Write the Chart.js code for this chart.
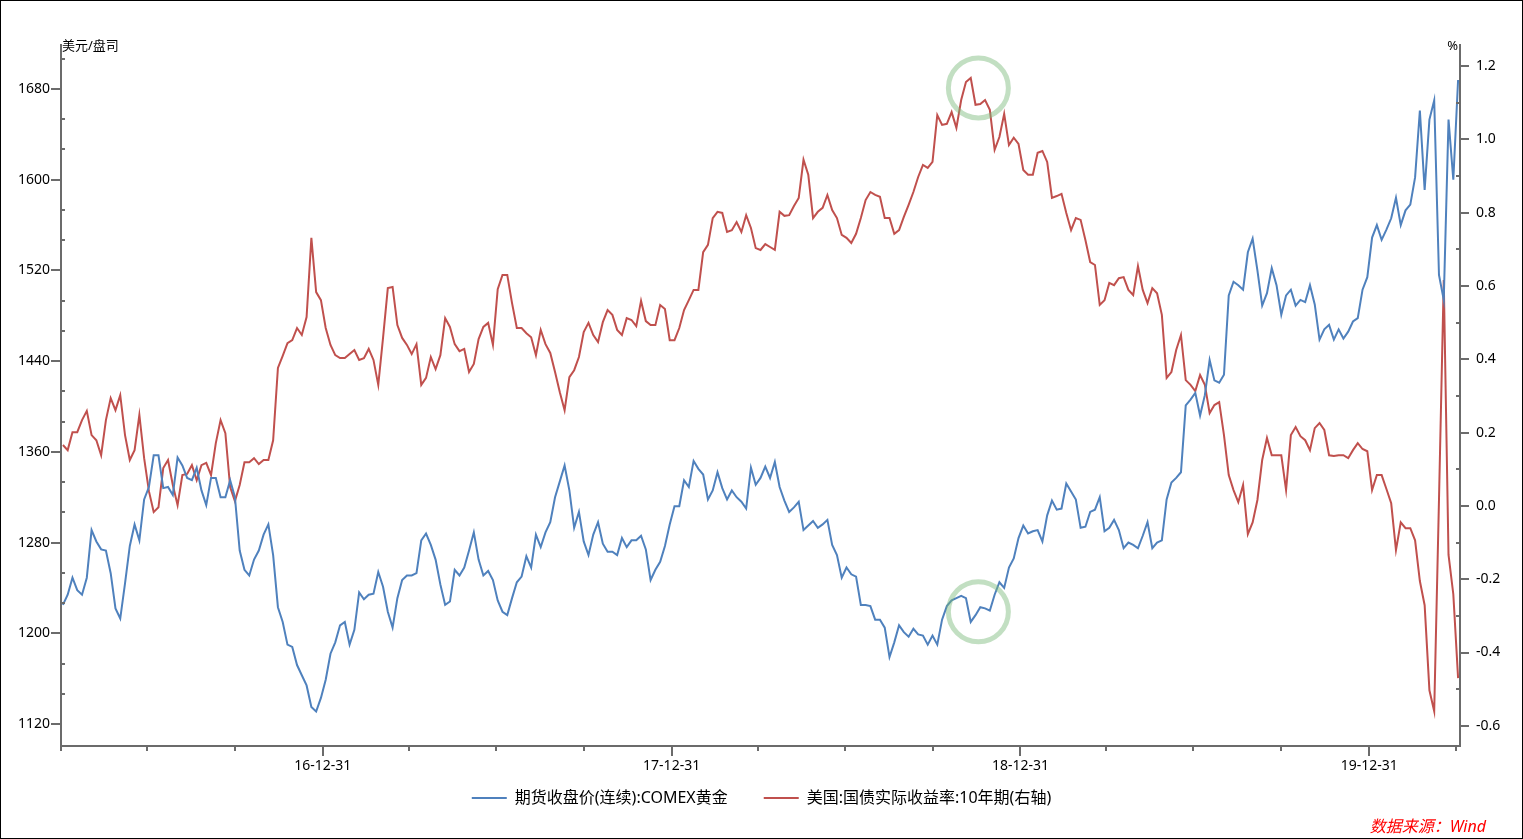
<!DOCTYPE html>
<html>
<head>
<meta charset="utf-8">
<script src="https://cdn.jsdelivr.net/npm/chart.js@4.4.1/dist/chart.umd.min.js"></script>
<style>
  html, body { margin: 0; padding: 0; background: #fff; }
  #wrap { width: 1521px; height: 837px; border: 1px solid #000; }
  canvas { display: block; }
</style>
</head>
<body>
<div id="wrap"><canvas id="chart" width="1521" height="837"></canvas></div>
<script>
// day 0 = 2016-03-31, one reading every 5 days
const startDay = 3;
const stepDays = 5;

// 期货收盘价(连续):COMEX黄金, USD/oz
const goldPrice = [
  1225,1234,1249,1238,1234,1249,1291,1281,1274,1273,
  1253,1222,1213,1244,1277,1296,1282,1318,1329,1357,
  1357,1328,1329,1322,1355,1348,1337,1335,1346,1326,
  1313,1337,1337,1320,1320,1335,1320,1273,1256,1251,
  1265,1273,1287,1296,1269,1223,1210,1190,1188,1172,
  1163,1154,1135,1131,1143,1159,1182,1192,1207,1210,
  1190,1203,1236,1230,1234,1235,1254,1241,1219,1205,
  1231,1247,1251,1251,1253,1282,1288,1278,1265,1243,
  1225,1228,1256,1251,1258,1273,1289,1265,1251,1255,
  1247,1229,1219,1216,1231,1245,1250,1268,1258,1287,
  1276,1289,1298,1320,1334,1348,1326,1293,1307,1281,
  1269,1287,1298,1279,1272,1272,1269,1284,1276,1282,
  1282,1286,1274,1247,1256,1263,1277,1296,1312,1312,
  1335,1329,1352,1345,1340,1318,1326,1342,1328,1318,
  1326,1320,1316,1310,1346,1331,1337,1347,1337,1351,
  1329,1317,1307,1311,1316,1291,1295,1299,1293,1296,
  1300,1278,1269,1249,1258,1252,1250,1225,1225,1224,
  1212,1212,1205,1179,1192,1207,1201,1197,1204,1199,
  1198,1190,1198,1190,1212,1224,1229,1231,1233,1231,
  1210,1216,1223,1222,1220,1234,1245,1240,1258,1266,
  1284,1295,1288,1290,1291,1281,1304,1317,1309,1310,
  1332,1325,1318,1293,1294,1307,1309,1320,1290,1293,
  1300,1291,1275,1280,1278,1275,1286,1298,1275,1280,
  1282,1318,1333,1337,1342,1401,1406,1412,1392,1410,
  1441,1423,1421,1428,1498,1510,1507,1503,1536,1548,
  1520,1489,1500,1522,1507,1481,1498,1503,1489,1494,
  1492,1507,1490,1459,1468,1472,1459,1468,1460,1466,
  1475,1478,1503,1514,1549,1560,1547,1556,1566,1584,
  1560,1573,1578,1602,1661,1591,1653,1670,1516,1494,
  1653,1600,1688
];

// 美国:国债实际收益率:10年期, %
const realYield = [
  0.166,0.152,0.201,0.201,0.234,0.259,0.193,0.179,0.138,0.234,
  0.294,0.261,0.302,0.193,0.125,0.152,0.248,0.130,0.040,-0.017,
  -0.004,0.103,0.125,0.057,0.002,0.084,0.087,0.111,0.070,0.111,
  0.117,0.084,0.171,0.234,0.198,0.051,0.013,0.057,0.119,0.119,
  0.130,0.114,0.125,0.125,0.179,0.376,0.409,0.444,0.452,0.485,
  0.466,0.515,0.731,0.583,0.561,0.485,0.439,0.411,0.403,0.403,
  0.414,0.425,0.398,0.403,0.428,0.398,0.330,0.458,0.594,0.597,
  0.493,0.458,0.439,0.414,0.441,0.330,0.349,0.406,0.373,0.411,
  0.512,0.488,0.441,0.422,0.428,0.365,0.387,0.455,0.488,0.499,
  0.439,0.591,0.630,0.630,0.553,0.485,0.485,0.471,0.460,0.411,
  0.480,0.441,0.417,0.365,0.310,0.261,0.351,0.370,0.406,0.474,
  0.499,0.466,0.447,0.501,0.534,0.521,0.480,0.466,0.512,0.507,
  0.490,0.559,0.504,0.493,0.493,0.548,0.537,0.452,0.452,0.485,
  0.534,0.561,0.589,0.589,0.692,0.712,0.785,0.802,0.799,0.747,
  0.752,0.774,0.747,0.793,0.758,0.703,0.698,0.714,0.706,0.698,
  0.802,0.791,0.793,0.818,0.840,0.944,0.903,0.785,0.802,0.813,
  0.848,0.807,0.785,0.739,0.731,0.717,0.742,0.785,0.834,0.856,
  0.848,0.843,0.785,0.785,0.742,0.752,0.788,0.821,0.856,0.897,
  0.930,0.922,0.938,1.066,1.039,1.042,1.074,1.031,1.107,1.156,
  1.167,1.094,1.096,1.107,1.080,0.971,1.006,1.069,0.984,1.004,
  0.987,0.916,0.903,0.903,0.963,0.968,0.938,0.840,0.845,0.851,
  0.799,0.752,0.785,0.780,0.725,0.665,0.657,0.548,0.561,0.608,
  0.602,0.621,0.624,0.589,0.575,0.654,0.589,0.553,0.594,0.580,
  0.521,0.349,0.365,0.425,0.466,0.343,0.330,0.313,0.357,0.330,
  0.253,0.275,0.283,0.193,0.084,0.043,0.010,0.057,-0.077,-0.045,
  0.016,0.125,0.185,0.138,0.138,0.138,0.043,0.193,0.215,0.190,
  0.179,0.152,0.212,0.226,0.207,0.138,0.136,0.138,0.138,0.130,
  0.152,0.171,0.155,0.149,0.043,0.084,0.084,0.046,0.007,-0.121,
  -0.045,-0.061,-0.061,-0.094,-0.205,-0.271,-0.503,-0.560,0.016,0.616,
  -0.134,-0.241,-0.470
];

const leftTicks = [1120, 1200, 1280, 1360, 1440, 1520, 1600, 1680];
const rightTicks = [-0.6, -0.4, -0.2, 0.0, 0.2, 0.4, 0.6, 0.8, 1.0, 1.2];

// highlighted spots (late 2018)
const circles = [
  { day: 961, axis: 'yRight', value: 1.14 },
  { day: 961, axis: 'yLeft', value: 1219 }
];

const axisColor = '#6b6b6b';
const numFont = "'Noto Sans', 'Noto Sans CJK SC', sans-serif";
const cjkFont = "'Noto Sans', 'Noto Sans CJK SC', sans-serif";

const base = Date.UTC(2016, 2, 31);
const dayOf = (y, m, d) => (Date.UTC(y, m - 1, d) - base) / 86400000;
const quarterEnds = [];
for (let y = 2016; y <= 2020; y++) {
  [[3, 31], [6, 30], [9, 30], [12, 31]].forEach(([m, d]) => {
    quarterEnds.push({ day: dayOf(y, m, d), yearEnd: m === 12, label: String(y).slice(2) + '-12-31' });
  });
}

const toPoints = arr => arr.map((v, i) => ({ x: startDay + i * stepDays, y: v }));

const axisDecor = {
  id: 'axisDecor',
  afterDatasetsDraw(chart) {
    const { ctx, scales } = chart;
    ctx.save();
    ctx.strokeStyle = 'rgba(120,185,120,0.45)';
    ctx.lineWidth = 5;
    circles.forEach(c => {
      const cx = scales.x.getPixelForValue(c.day);
      const cy = scales[c.axis].getPixelForValue(c.value);
      ctx.beginPath();
      ctx.arc(cx, cy, 30, 0, Math.PI * 2);
      ctx.stroke();
    });
    ctx.restore();
  },
  afterDraw(chart) {
    const { ctx, chartArea: a, scales } = chart;
    const { x, yLeft, yRight } = scales;
    ctx.save();
    ctx.strokeStyle = axisColor;
    ctx.lineWidth = 2;
    ctx.beginPath();
    // left axis: major ticks outside, minor inside
    for (let k = -1; k <= 24; k++) {
      const v = 1120 + k * 80 / 3;
      if (v < yLeft.min || v > yLeft.max) continue;
      const py = Math.round(yLeft.getPixelForValue(v));
      if (k % 3 === 0) { ctx.moveTo(a.left - 10, py); ctx.lineTo(a.left, py); }
      else { ctx.moveTo(a.left, py); ctx.lineTo(a.left + 4, py); }
    }
    // right axis
    for (let k = -7; k <= 13; k++) {
      const v = k / 10;
      if (v < yRight.min || v > yRight.max) continue;
      const py = Math.round(yRight.getPixelForValue(v));
      if (k % 2 === 0) { ctx.moveTo(a.right, py); ctx.lineTo(a.right + 9, py); }
      else { ctx.moveTo(a.right - 4, py); ctx.lineTo(a.right, py); }
    }
    // bottom axis: quarter ends, longer at year ends
    quarterEnds.forEach(q => {
      if (q.day > x.max) return;
      const px = Math.round(Math.max(a.left, x.getPixelForValue(q.day)));
      ctx.moveTo(px, a.bottom);
      ctx.lineTo(px, a.bottom + (q.yearEnd ? 10 : 5));
    });
    ctx.stroke();

    ctx.fillStyle = '#000';
    ctx.textBaseline = 'middle';
    ctx.textAlign = 'center';
    ctx.font = '14px ' + numFont;
    quarterEnds.forEach(q => {
      if (!q.yearEnd || q.day > x.max) return;
      ctx.fillText(q.label, x.getPixelForValue(q.day), a.bottom + 20);
    });

    ctx.font = '13px ' + cjkFont;
    ctx.textAlign = 'left';
    ctx.fillText('美元/盘司', a.left + 1, a.top + 1);
    ctx.textAlign = 'right';
    ctx.fillText('%', a.right - 2, a.top + 1);

    ctx.fillStyle = '#ff0000';
    ctx.font = 'italic 16px ' + cjkFont;
    ctx.fillText('数据来源：Wind', 1485, 826);
    ctx.restore();
  }
};

new Chart(document.getElementById('chart'), {
  type: 'line',
  data: {
    datasets: [
      {
        label: '期货收盘价(连续):COMEX黄金',
        data: toPoints(goldPrice),
        yAxisID: 'yLeft',
        borderColor: '#4f81bd',
        backgroundColor: '#4f81bd',
        borderWidth: 2
      },
      {
        label: '美国:国债实际收益率:10年期(右轴)',
        data: toPoints(realYield),
        yAxisID: 'yRight',
        borderColor: '#c0504d',
        backgroundColor: '#c0504d',
        borderWidth: 2
      }
    ]
  },
  options: {
    responsive: false,
    animation: false,
    layout: { autoPadding: false, padding: { top: 44, bottom: 22, left: 0, right: 0 } },
    elements: { point: { radius: 0 }, line: { tension: 0 } },
    scales: {
      x: {
        type: 'linear',
        min: 1,
        max: 1465,
        grid: { display: false, drawTicks: false },
        border: { display: true, color: axisColor, width: 2 },
        ticks: { display: false },
        afterFit: s => { s.height = 8; s.paddingLeft = 0; s.paddingRight = 0; }
      },
      yLeft: {
        type: 'linear',
        position: 'left',
        min: 1100.6,
        max: 1718.8,
        grid: { display: false, drawTicks: false },
        border: { display: true, color: axisColor, width: 2 },
        afterBuildTicks: s => { s.ticks = leftTicks.map(v => ({ value: v })); },
        afterFit: s => { s.width = 60; },
        ticks: {
          padding: 11,
          color: '#000',
          font: { family: numFont, size: 14 },
          callback: v => String(v)
        }
      },
      yRight: {
        type: 'linear',
        position: 'right',
        min: -0.655,
        max: 1.257,
        grid: { display: false, drawTicks: false },
        border: { display: true, color: axisColor, width: 2 },
        afterBuildTicks: s => { s.ticks = rightTicks.map(v => ({ value: v })); },
        afterFit: s => { s.width = 62; },
        ticks: {
          padding: 16,
          color: '#000',
          font: { family: numFont, size: 14 },
          callback: v => v.toFixed(1)
        }
      }
    },
    plugins: {
      tooltip: { enabled: false },
      legend: {
        position: 'bottom',
        labels: {
          usePointStyle: true,
          pointStyle: 'line',
          pointStyleWidth: 35,
          padding: 36,
          color: '#000',
          font: { family: cjkFont, size: 16 }
        }
      }
    }
  },
  plugins: [axisDecor]
});
</script>
</body>
</html>
